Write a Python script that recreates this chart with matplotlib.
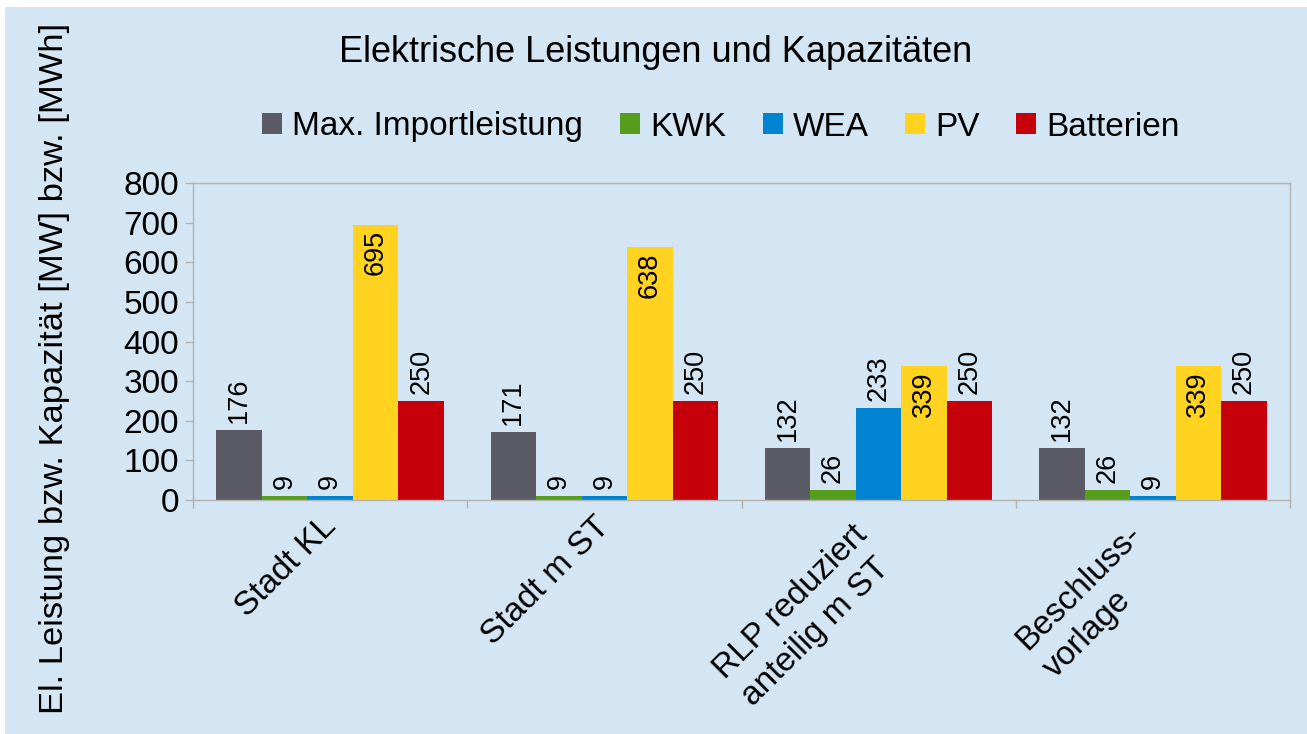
import numpy as np
import matplotlib
matplotlib.use("Agg")
import matplotlib.pyplot as plt
from matplotlib.patches import Rectangle
from matplotlib.transforms import blended_transform_factory, offset_copy

plt.rcParams["font.family"] = ["Liberation Sans", "DejaVu Sans"]

# data
categories = ["Stadt KL", "Stadt m ST", "RLP reduziert\nanteilig m ST", "Beschluss-\nvorlage"]
series_names = ["Max. Importleistung", "KWK", "WEA", "PV", "Batterien"]
import_power = [176, 171, 132, 132]
kwk = [9, 9, 26, 26]
wea = [9, 9, 233, 9]
pv = [695, 638, 339, 339]
batteries = [250, 250, 250, 250]
colors = ["#5b5b65", "#579d1c", "#0084d1", "#ffd320", "#c5000b"]

series = [import_power, kwk, wea, pv, batteries]
inside_label = [False, False, False, True, False]

W, H = 1307, 734
BG = "#d4e5f3"
fig = plt.figure(figsize=(W / 100, H / 100), dpi=100, facecolor="white")
fig.patches.append(Rectangle((5 / W, 0), 1, 1 - 7 / H, transform=fig.transFigure,
                             facecolor=BG, edgecolor="none", zorder=-10))

ax = fig.add_axes([193 / W, 1 - 500 / H, (1290 - 193) / W, (500 - 183) / H])
ax.set_facecolor(BG)

x = np.arange(len(categories))
bw = 0.166
for i, (vals, name, c) in enumerate(zip(series, series_names, colors)):
    pos = x + (i - 2) * bw
    bars = ax.bar(pos, vals, width=bw, color=c, label=name, zorder=2)
    for b, v in zip(bars, vals):
        cx = b.get_x() + b.get_width() / 2
        if inside_label[i]:
            ax.annotate(str(v), (cx, v), xytext=(0, -4), textcoords="offset points",
                        rotation=90, ha="center", va="top", fontsize=19.5)
        else:
            ax.annotate(str(v), (cx, v), xytext=(0, 5), textcoords="offset points",
                        rotation=90, ha="center", va="bottom", fontsize=19.5)

ax.set_xlim(-0.5, len(categories) - 0.5)
ax.set_ylim(0, 800)
ax.set_yticks(range(0, 801, 100))
ax.tick_params(axis="y", labelsize=24, length=6, color="#b3b3b3", width=1, pad=4)

# category boundaries as ticks, names as rotated text
ax.set_xticks(np.arange(-0.5, len(categories), 1))
ax.set_xticklabels([])
ax.tick_params(axis="x", length=6, color="#b3b3b3", width=1)

trans = blended_transform_factory(ax.transData, ax.transAxes)
for xi, cat in zip(x, categories):
    n = cat.count("\n")
    tr = offset_copy(trans, fig=fig, x=-7.2 - 12.2 * n, y=-7.9 - 5.8 * n, units="points")
    ax.text(xi, 0, cat, transform=tr, rotation=45, ha="right", va="top",
            rotation_mode="anchor", multialignment="left", linespacing=1.35,
            fontsize=24)

for s in ax.spines.values():
    s.set_color("#b3b3b3")
    s.set_linewidth(1)

fig.text(0.502, 1 - 53 / H, "Elektrische Leistungen und Kapazitäten",
         ha="center", va="center", fontsize=26)
fig.text(55 / W, 1 - 368 / H, "El. Leistung bzw. Kapazität [MW] bzw. [MWh]",
         rotation=90, ha="center", va="center", fontsize=24.8)

fig.legend(loc="center", bbox_to_anchor=(721 / W, 1 - 127 / H), ncol=5,
           frameon=False, fontsize=24, handlelength=0.6, handleheight=0.6,
           handletextpad=0.3, columnspacing=1.1, borderaxespad=0)

fig.savefig("out.png", dpi=100, facecolor="white")
